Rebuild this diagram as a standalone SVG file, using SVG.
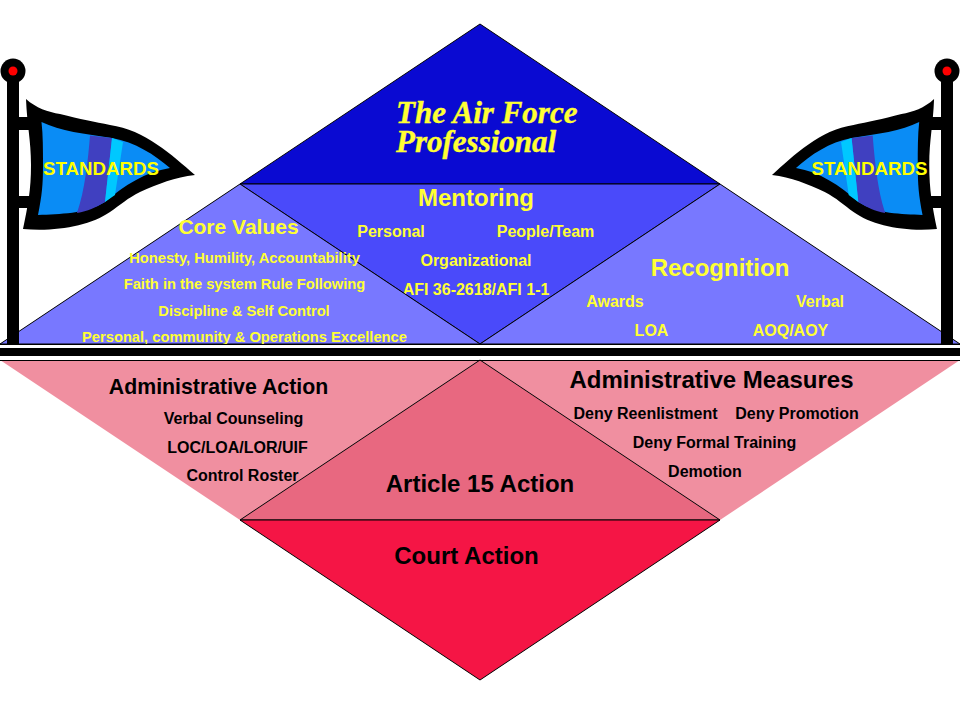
<svg xmlns="http://www.w3.org/2000/svg" width="960" height="720" viewBox="0 0 960 720">
<style>
text{font-family:"Liberation Sans",Arial,sans-serif;font-weight:bold;text-anchor:middle}
.y{fill:#ffff33}.k{fill:#000}
.s{font-size:16px}.c{font-size:14.7px}.b{font-size:24px}.d{stroke:#000;stroke-width:1}
.f{font-size:18.7px;fill:#ffff00}
.t{font-family:"Liberation Serif",serif;font-style:italic;font-size:31px;fill:#ffff33;text-anchor:start;stroke:#ffff33;stroke-width:.4}
</style>
<defs>
<g id="flagshape">
<path d="M7 117H36V130H7ZM7 196H36V208H7Z" fill="#000"/>
<path d="M26 99C36 108 48 112 60 114C80 119 95 122 110 125C145 130 172 155 195 175C175 177 158 184 140 192C128 198 120 205 110 212C90 226 55 232 23 229C28 205 31 190 31 165C31 140 27 125 26 99Z" fill="#000"/>
<path d="M41.500 122C60 131 85 134 112 138C135 142 155 155 170 168C145 172 125 185 105 202C85 214 60 214 38 215C42 195 43 185 43 165C43 150 43 135 41.500 122Z" fill="#0a8cf5"/>
<path d="M90 135.500L112 138L105 202C95 208 88 211 77 213C85 190 88 160 90 135.500Z" fill="#4040c0"/>
<path d="M112 138L123 142L115 195L105 202Z" fill="#00c8ff"/>
</g>
</defs>
<rect width="960" height="720" fill="#fff"/>
<g id="node-professional"><path class="d" d="M480 24L720 184H240Z" fill="#0a0ad2"/>
<text class="t"><tspan x="396" y="123">The Air Force</tspan><tspan x="396" y="152">Professional</tspan></text></g>
<g id="node-mentoring"><path class="d" d="M240 184H720L480 344Z" fill="#4a4afa"/>
<text class="y b" x="476" y="206">Mentoring</text><text class="y s" x="391" y="237">Personal</text><text class="y s" x="545.500" y="237">People/Team</text><text class="y s" x="476" y="266">Organizational</text><text class="y s" x="476" y="295">AFI 36-2618/AFI 1-1</text></g>
<g id="node-core"><path class="d" d="M240 184L480 344H0Z" fill="#7878ff"/>
<text class="y" style="font-size:21px" x="238.500" y="234">Core Values</text><text class="y c" x="244.500" y="263">Honesty, Humility, Accountability</text><text class="y c" x="244.500" y="289">Faith in the system Rule Following</text><text class="y c" x="244" y="316">Discipline &amp; Self Control</text><text class="y c" x="244.500" y="342">Personal, community &amp; Operations Excellence</text></g>
<g id="node-recognition"><path class="d" d="M720 184L960 344H480Z" fill="#7878ff"/>
<text class="y b" x="720" y="276">Recognition</text><text class="y s" x="615" y="307">Awards</text><text class="y s" x="820" y="307">Verbal</text><text class="y s" x="651.500" y="336">LOA</text><text class="y s" x="790.500" y="336">AOQ/AOY</text></g>
<g id="node-action"><path d="M0 360H480L240 520Z" fill="#f08fa0"/>
<text class="k" style="font-size:21.300px" x="218.500" y="394">Administrative Action</text><text class="k s" x="233.500" y="424">Verbal Counseling</text><text class="k s" x="237.500" y="453">LOC/LOA/LOR/UIF</text><text class="k s" x="242.500" y="481">Control Roster</text></g>
<g id="node-measures"><path d="M480 360H960L720 520Z" fill="#f08fa0"/>
<text class="k b" x="711.500" y="388">Administrative Measures</text><text class="k s" x="645.500" y="419">Deny Reenlistment</text><text class="k s" x="797" y="419">Deny Promotion</text><text class="k s" x="714.500" y="448">Deny Formal Training</text><text class="k s" x="705" y="477">Demotion</text></g>
<g id="node-article"><path class="d" d="M480 360L720 520H240Z" fill="#e86880"/><text class="k b" x="480" y="492">Article 15 Action</text></g>
<g id="node-court"><path class="d" d="M240 520H720L480 680Z" fill="#f51545"/><text class="k b" x="466.500" y="564">Court Action</text></g>
<g id="connectors">
<path d="M0 344.500H960M0 360.500H960" stroke="#000" stroke-width="1.200"/>
<rect x="0" y="348" width="960" height="8" fill="#000"/>
</g>
<g id="flag-left">
<rect x="7" y="70" width="12" height="275" fill="#000"/><circle cx="13" cy="71" r="12.500" fill="#000"/><circle cx="13" cy="71" r="4.500" fill="#f00"/>
<use href="#flagshape"/><text class="f" x="101" y="175">STANDARDS</text></g>
<g id="flag-right">
<rect x="941" y="70" width="12" height="275" fill="#000"/><circle cx="947" cy="71" r="12.500" fill="#000"/><circle cx="947" cy="71" r="4.500" fill="#f00"/>
<use href="#flagshape" transform="translate(960 0) scale(-1 1) translate(1 0) scale(.959 1)"/><text class="f" x="869.500" y="175">STANDARDS</text></g>
</svg>
